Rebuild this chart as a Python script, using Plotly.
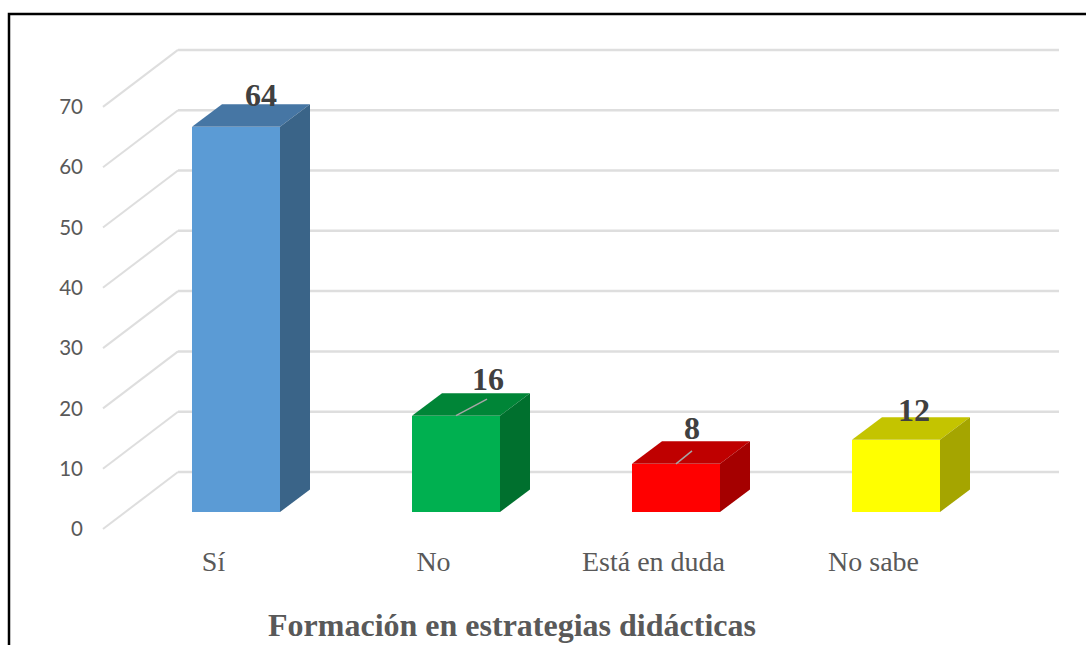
import plotly.graph_objects as go

# Datos
categories = ["Sí", "No", "Está en duda", "No sabe"]
values = [64, 16, 8, 12]
axis_ticks = [0, 10, 20, 30, 40, 50, 60, 70]
chart_title = "Formación en estrategias didácticas"

front_colors = ["#5B9BD5", "#00B050", "#FF0000", "#FFFF00"]
top_colors = ["#4676A4", "#008537", "#BF0000", "#C4C400"]
side_colors = ["#3A6488", "#00702E", "#A50000", "#A5A500"]

GREY = "#595959"
GRID = "#DEDEDE"

# Geometria de la pseudo-perspectiva, en pixeles
W, H = 1086, 645
X0_PX, X_STEP = 236.0, 220.0      # centro de la primera barra y separacion
Y0_PX, Y_SCALE = 512.0, 6.02      # base de las barras y px por unidad
WALL_Y0_PX, WALL_SCALE = 529.0, 6.03  # escala de la pared lateral
BAR_W = 88 / X_STEP
DEPTH_X, DEPTH_Y = 30 / X_STEP, 22.5 / Y_SCALE


def x_px(px):
    return (px - X0_PX) / X_STEP


def y_px(px):
    return (Y0_PX - px) / Y_SCALE


fig = go.Figure()

# Diagonales de la pared lateral (eje y2, el que lleva las etiquetas)
diag_x, diag_y = [], []
for t in axis_ticks:
    diag_x += [x_px(103), x_px(178), None]
    diag_y += [t, t + 57 / WALL_SCALE, None]
fig.add_trace(go.Scatter(x=diag_x, y=diag_y, yaxis="y2", mode="lines",
                         line=dict(color=GRID, width=2), showlegend=False))

# Lineas de la pared del fondo, por debajo de las barras
back_offset = (Y0_PX - 472.0) / Y_SCALE
for t in axis_ticks:
    back_y = t * WALL_SCALE / Y_SCALE + back_offset
    fig.add_shape(type="line", layer="below", xref="x", yref="y",
                  x0=x_px(178), x1=x_px(1059), y0=back_y, y1=back_y,
                  line=dict(color=GRID, width=2.5))

# Caras frontales
fig.add_trace(go.Bar(x=list(range(len(values))), y=values, width=BAR_W,
                     marker=dict(color=front_colors, line=dict(width=0)),
                     showlegend=False))

# Caras superior y lateral
for i, v in enumerate(values):
    left, right = i - BAR_W / 2, i + BAR_W / 2
    fig.add_trace(go.Scatter(
        x=[left, right, right + DEPTH_X, left + DEPTH_X, left],
        y=[v, v, v + DEPTH_Y, v + DEPTH_Y, v],
        mode="lines", fill="toself", fillcolor=top_colors[i],
        line=dict(width=0), showlegend=False))
    fig.add_trace(go.Scatter(
        x=[right, right + DEPTH_X, right + DEPTH_X, right, right],
        y=[0, DEPTH_Y, v + DEPTH_Y, v, 0],
        mode="lines", fill="toself", fillcolor=side_colors[i],
        line=dict(width=0), showlegend=False))

# Lineas guia de las etiquetas 16 y 8
leaders = {1: (31, 16.5), 2: (16, 13)}
for i, off in leaders.items():
    fig.add_trace(go.Scatter(
        x=[i, i + off[0] / X_STEP],
        y=[values[i], values[i] + off[1] / Y_SCALE],
        mode="lines", line=dict(color="#A6A6A6", width=1.5), showlegend=False))

# Etiquetas de datos (desplazamiento en px respecto al centro de la barra)
label_shift = [(25, 32), (32, 37), (16, 36), (18, 30)]
for i, v in enumerate(values):
    fig.add_annotation(x=i, y=v, text=f"<b>{v}</b>", showarrow=False,
                       xshift=label_shift[i][0], yshift=label_shift[i][1],
                       font=dict(family="Liberation Serif", size=32, color="#404040"))

# Marco negro abierto por abajo y a la derecha
fig.add_shape(type="path", xref="paper", yref="paper",
              path=f"M {9 / W} 0 L {9 / W} {1 - 14 / H} L 1 {1 - 14 / H}",
              line=dict(color="black", width=2.5))

fig.update_layout(
    width=W, height=H,
    margin=dict(l=0, r=0, t=0, b=0),
    paper_bgcolor="white", plot_bgcolor="white",
    bargap=0, showlegend=False,
    title=dict(text=f"<b>{chart_title}</b>", xref="paper", yref="paper",
               x=512 / W, xanchor="center", y=20 / H, yanchor="middle",
               font=dict(family="Liberation Serif", size=32, color=GREY)),
    xaxis=dict(range=[x_px(0), x_px(W)], domain=[0, 1], anchor="free",
               position=1 - 542 / H,
               tickvals=[i - 22.5 / X_STEP for i in range(len(categories))],
               ticktext=categories, showgrid=False, zeroline=False,
               showline=False, ticks="",
               tickfont=dict(family="Liberation Serif", size=28, color=GREY)),
    yaxis=dict(range=[y_px(H), y_px(0)], domain=[0, 1], visible=False),
    yaxis2=dict(range=[(WALL_Y0_PX - H) / WALL_SCALE, WALL_Y0_PX / WALL_SCALE],
                domain=[0, 1], overlaying="y", anchor="free",
                position=83 / W, side="left",
                tickvals=axis_ticks, showgrid=False, zeroline=False,
                showline=False, ticks="",
                tickfont=dict(family="Lato", size=20.5, color=GREY)),
)

# El body trae 8 px de margen por defecto
fig.write_html("out.html", config={"displayModeBar": False},
               post_script="document.body.style.margin='0';")
